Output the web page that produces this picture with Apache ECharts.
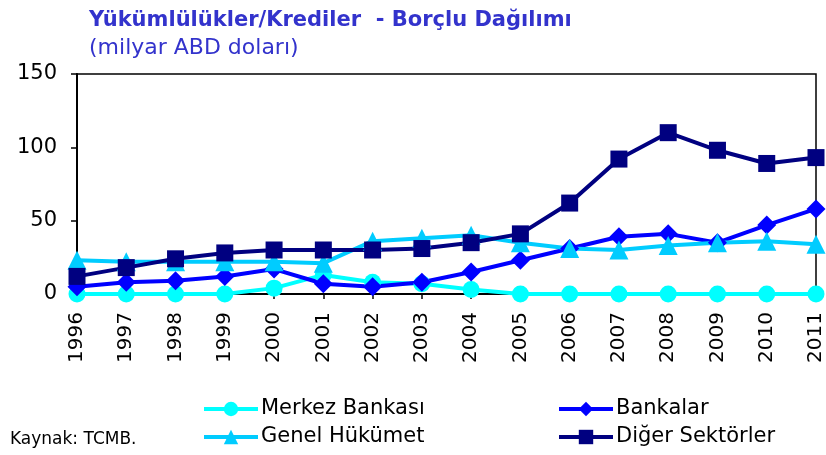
<!DOCTYPE html>
<html>
<head>
<meta charset="utf-8">
<script src="https://cdn.jsdelivr.net/npm/echarts@6/dist/echarts.min.js"></script>
<style>
  html, body { margin: 0; padding: 0; background: #fff; }
  #chart { width: 826px; height: 455px; }
</style>
</head>
<body>
<div id="chart"></div>
<script>
const years = ['1996', '1997', '1998', '1999', '2000', '2001', '2002', '2003', '2004', '2005', '2006', '2007', '2008', '2009', '2010', '2011']
const merkezBankasi = [0, 0, 0, 0, 4, 13, 8, 7, 3, 0, 0, 0, 0, 0, 0, 0]
const bankalar = [5, 8, 9, 12, 17, 7, 5, 8, 15, 23, 31, 39, 41, 35, 47, 58]
const genelHukumet = [23, 22, 22, 22, 22, 21, 36, 38, 40, 35, 31, 30, 33, 35, 36, 34]
const digerSektorler = [12, 18, 24, 28, 30, 30, 30, 31, 35, 41, 62, 92, 110, 98, 89, 93]

const font = 'DejaVu Sans'
const chart = echarts.init(document.getElementById('chart'))

const line = (name, data, color, symbol, size) => ({
  name,
  type: 'line',
  data,
  color,
  symbol,
  symbolSize: size,
  lineStyle: { width: 4, color },
  itemStyle: { color },
  animation: false
})

const legendText = { fontFamily: font, fontSize: 21, color: '#000', lineHeight: 24, padding: [0, 0, 0, -2] }

chart.setOption({
  backgroundColor: '#fff',
  textStyle: { fontFamily: font },
  title: {
    text: 'Yükümlülükler/Krediler  - Borçlu Dağılımı',
    subtext: '(milyar ABD doları)',
    left: 84,
    top: 4,
    itemGap: 3,
    textStyle: { fontFamily: font, fontSize: 21, fontWeight: 'bold', color: '#3333cc', lineHeight: 24 },
    subtextStyle: { fontFamily: font, fontSize: 22, color: '#3333cc', lineHeight: 24 }
  },
  grid: {
    left: 77, right: 10, top: 74, bottom: 161,
    show: true, borderColor: '#000', borderWidth: 1.5,
    containLabel: false
  },
  legend: [
    {
      data: ['Merkez Bankası', 'Genel Hükümet'],
      orient: 'vertical',
      left: 197, top: 392,
      itemWidth: 54, itemHeight: 18, itemGap: 4,
      lineStyle: { width: 4 },
      textStyle: legendText
    },
    {
      data: ['Bankalar', 'Diğer Sektörler'],
      orient: 'vertical',
      left: 552, top: 392,
      itemWidth: 54, itemHeight: 18, itemGap: 4,
      lineStyle: { width: 4 },
      textStyle: legendText
    }
  ],
  graphic: [{
    type: 'text',
    left: 10, top: 431,
    style: { text: 'Kaynak: TCMB.', fontFamily: font, fontSize: 17, fill: '#000' }
  }],
  xAxis: {
    type: 'category',
    data: years,
    boundaryGap: false,
    axisLine: { lineStyle: { color: '#000', width: 2 } },
    axisTick: { show: true, length: 5, lineStyle: { color: '#000', width: 1.5 } },
    axisLabel: { rotate: 90, fontFamily: font, fontSize: 20, color: '#000', margin: 18, interval: 0 },
    splitLine: { show: false }
  },
  yAxis: {
    type: 'value',
    min: 0, max: 150, interval: 50,
    axisLine: { show: true, lineStyle: { color: '#000', width: 2 } },
    axisTick: { show: true, length: 6, lineStyle: { color: '#000', width: 1.5 } },
    axisLabel: { fontFamily: font, fontSize: 21, color: '#000', margin: 20 },
    splitLine: { show: false }
  },
  series: [
    line('Merkez Bankası', merkezBankasi, '#00ffff', 'circle', 17),
    line('Bankalar', bankalar, '#0000ff', 'diamond', 19),
    line('Genel Hükümet', genelHukumet, '#00ccff', 'triangle', 19),
    line('Diğer Sektörler', digerSektorler, '#000080', 'rect', 17)
  ]
})
</script>
</body>
</html>
